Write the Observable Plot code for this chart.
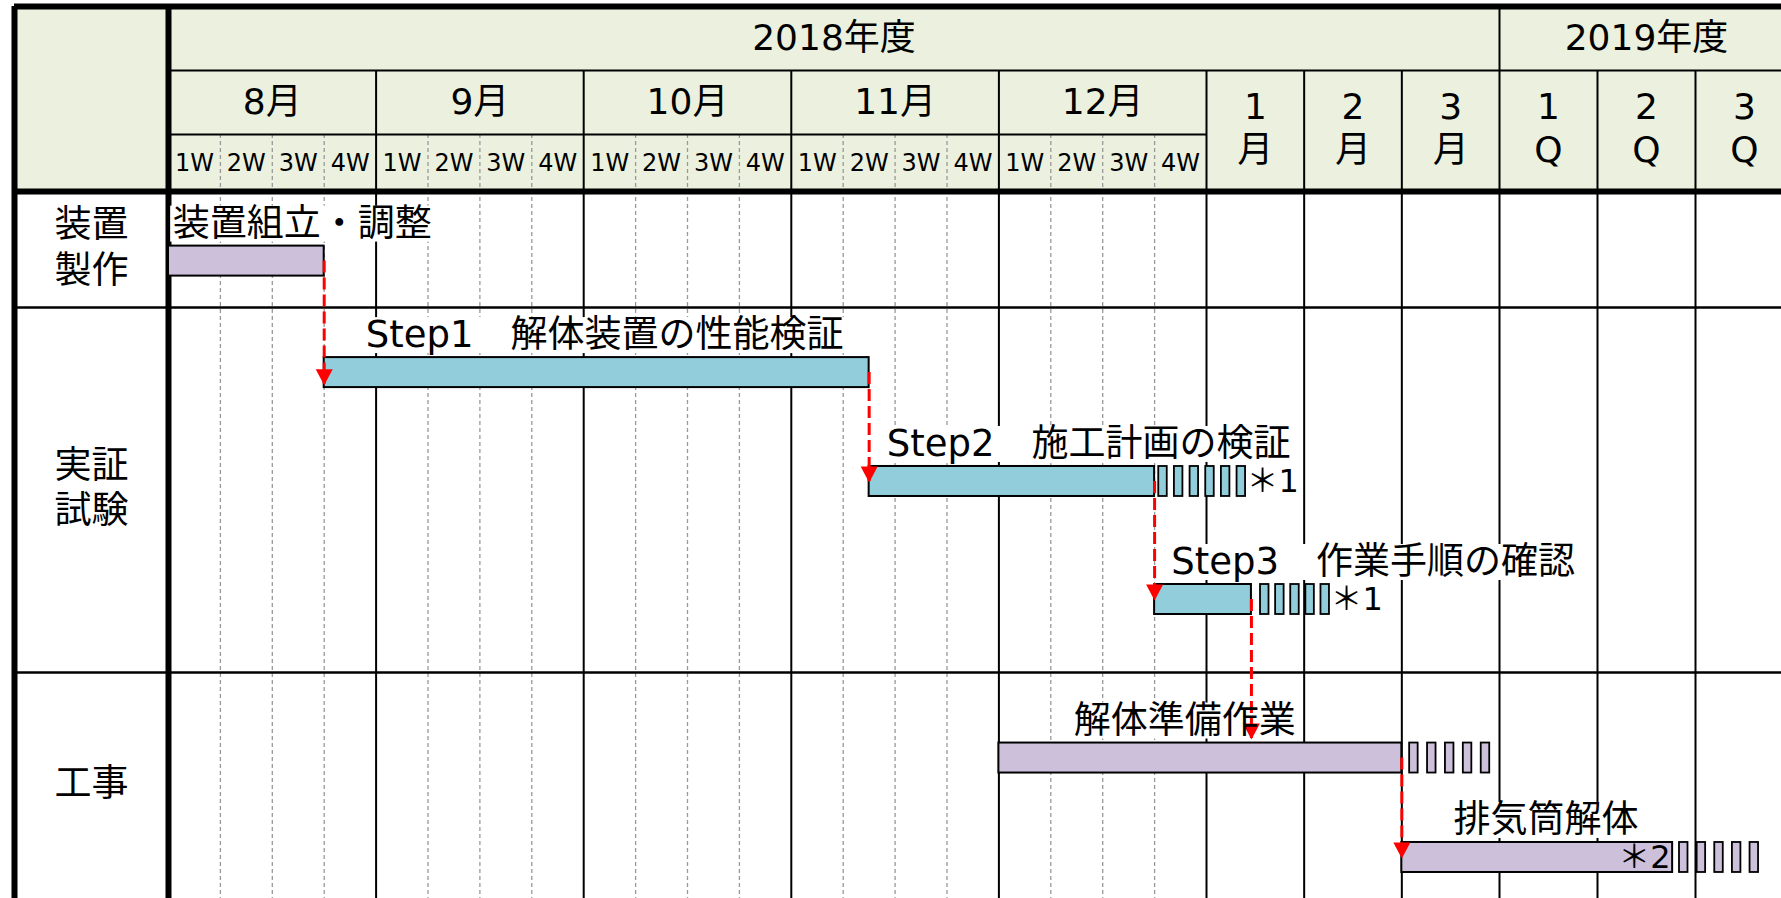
<!DOCTYPE html>
<html lang="ja">
<head>
<meta charset="utf-8">
<script src="https://cdn.jsdelivr.net/npm/d3@7"></script>
<script src="https://cdn.jsdelivr.net/npm/@observablehq/plot@0.6"></script>
<style>
html, body { margin: 0; padding: 0; background: #fff; overflow: hidden; }
#chart svg { display: block; }
</style>
</head>
<body>
<div id="chart"></div>
<script>
// ---------- header tick labels (x unit = months from 1 Aug 2018; 1 week = 1/4) ----------
const fiscalYears = ["2018年度", "2019年度"];
const fiscalYearBounds = [0, 8, 17];
const weekMonths = ["8月", "9月", "10月", "11月", "12月"];
const weekLabels = ["1W", "2W", "3W", "4W"];
const laterPeriods = ["1\n月", "2\n月", "3\n月", "1\nQ", "2\nQ", "3\nQ"];
const laterBounds = [5, 6, 7, 8, 11, 14, 17];

// ---------- row groups ----------
const groups = ["装置\n製作", "実証\n試験", "工事"];
const groupBounds = [0, 1, 4, 6];

// ---------- tasks ----------
const taskNames = ["装置組立・調整", "Step1　解体装置の性能検証", "Step2　施工計画の検証", "Step3　作業手順の確認", "解体準備作業", "排気筒解体"];
const taskGroup = [0, 1, 1, 1, 2, 2];
const taskLane = [0.6, 1.535, 2.43, 3.4, 4.757, 5.637];
const taskStart = [0, 0.75, 3.375, 4.75, 4, 7];
const taskEnd = [0.75, 3.375, 4.75, 5.46, 7, 13.3];
const taskLabelAt = [0.02, 0.95, 3.46, 4.83, 4.36, 7.53];

// ---------- possible extensions (small boxes) ----------
const extTask = [2, 3, 4, 5];
const extFrom = [4.77, 5.553, 7.08, 13.51];
const extTo = [5.40, 6.259, 7.90, 15.93];
const extBoxes = [6, 5, 5, 5];

// ---------- notes ----------
const noteTask = [2, 3, 5];
const noteText = ["＊1", "＊1", "＊2"];
const noteAfterExt = [true, true, false];

// ---------- dependency arrows ----------
const linkFrom = [0, 1, 2, 3, 4];
const linkTo = [1, 2, 3, 4, 5];
const linkTip = [1.63, 2.43, 3.40, 4.584, 5.637];

// ---------- styling ----------
const FONT = '"DejaVu Sans", "Noto Sans CJK JP", sans-serif';
const HEADER_FILL = "#EBF1DE";
const groupFill = ["#CCC0DA", "#92CDDC", "#CCC0DA"];
const RED = "#FF0000";
const BAR_HALF = 15, BOX_W = 8.5, LABEL_SIZE = 37, LABEL_DY = -37;

// piecewise column layout: label column, weekly months, monthly, quarterly
const xBreaks = [-1, 0, 5, 8, 17], xStops = [14, 168, 1206, 1499, 1793];
const yBreaks = [-3, -2, -1, 0, 1, 4, 6], yStops = [6, 70, 134, 191, 307, 672, 898];
const X = d3.scaleLinear(xBreaks, xStops);
const Y = d3.scaleLinear(yBreaks, yStops);
const midX = (a, b) => X.invert((X(a) + X(b)) / 2);
const midY = (a, b) => Y.invert((Y(a) + Y(b)) / 2);
const shiftX = (v, px) => X.invert(X(v) + px);
const shiftY = (v, px) => Y.invert(Y(v) + px);

const xLeft = xBreaks[0], xBody = xBreaks[1], xRight = xBreaks[xBreaks.length - 1];
const [yTop, yMonth, yWeek, yBody] = yBreaks;
const yBottom = yBreaks[yBreaks.length - 1];

// text measuring for label backgrounds
const ctx = document.createElement("canvas").getContext("2d");
ctx.font = `${LABEL_SIZE}px ${FONT}`;

// ---------- derived tables ----------
const tasks = taskNames.map((name, i) => ({
  name, group: taskGroup[i], lane: taskLane[i], start: taskStart[i], end: taskEnd[i],
  labelAt: taskLabelAt[i],
  y1: shiftY(taskLane[i], -BAR_HALF), y2: shiftY(taskLane[i], BAR_HALF),
  lx1: shiftX(taskLabelAt[i], -2), lx2: shiftX(taskLabelAt[i], ctx.measureText(name).width + 2),
  ly1: shiftY(taskLane[i], LABEL_DY - 18), ly2: shiftY(taskLane[i], LABEL_DY + 18)
}));

const boxes = extTask.flatMap((t, k) => {
  const a = X(extFrom[k]) + BOX_W / 2, b = X(extTo[k]) - BOX_W / 2, n = extBoxes[k];
  return d3.range(n).map(i => {
    const c = a + (b - a) * i / (n - 1);
    return {x1: X.invert(c - BOX_W / 2), x2: X.invert(c + BOX_W / 2), y1: tasks[t].y1, y2: tasks[t].y2, group: taskGroup[t]};
  });
});

const notes = noteTask.map((t, i) => ({
  text: noteText[i], lane: taskLane[t], after: noteAfterExt[i],
  x: noteAfterExt[i] ? extTo[extTask.indexOf(t)] : taskEnd[t]
}));

const links = linkFrom.map((f, i) => ({x: taskEnd[f], from: taskLane[f], tip: linkTip[i]}));

const yearText = fiscalYears.map((t, i) => ({t, x: midX(fiscalYearBounds[i], fiscalYearBounds[i + 1]), y: midY(yTop, yMonth)}));
const monthText = weekMonths.map((t, i) => ({t, x: midX(i, i + 1), y: midY(yMonth, yWeek)}));
const weekText = weekMonths.flatMap((_, m) => weekLabels.map((t, w) => ({t, x: midX(m + w / 4, m + (w + 1) / 4), y: midY(yWeek, yBody)})));
const laterText = laterPeriods.map((t, i) => ({t, x: midX(laterBounds[i], laterBounds[i + 1]), y: midY(yMonth, yBody)}));
const groupText = groups.map((t, i) => ({t, x: midX(xLeft, xBody), y: midY(groupBounds[i], groupBounds[i + 1])}));

const weekLines = weekMonths.flatMap((_, m) => weekLabels.slice(1).map((_, w) => ({x: m + (w + 1) / 4})));
const monthLines = [...weekMonths.map((_, i) => i + 1), ...laterBounds.slice(1, -1)].map(x => ({x}));
const yearLines = fiscalYearBounds.slice(1, -1).map(x => ({x}));
const groupLines = groupBounds.slice(1, -1).map(y => ({y}));

// filled arrow head whose tip sits on the anchor point
const downTriangle = {
  draw(c) { c.moveTo(0, 1); c.lineTo(-8.5, -15); c.lineTo(8.5, -15); c.closePath(); }
};

const W = 1781, H = 898;
const chart = Plot.plot({
  width: W,
  height: H,
  marginTop: 0, marginRight: 0, marginBottom: 0, marginLeft: 0,
  x: {type: "linear", transform: X, domain: [0, W], range: [0, W], axis: null},
  y: {type: "linear", transform: Y, domain: [0, H], range: [0, H], axis: null},
  style: {fontFamily: FONT, background: "#fff", color: "#000"},
  marks: [
    // header background
    Plot.rect([{}], {x1: () => xLeft, x2: () => xRight, y1: () => yTop, y2: () => yBody, fill: HEADER_FILL}),
    // week dashed lines
    Plot.ruleX(weekLines, {x: "x", y1: () => yWeek, y2: () => yBottom, stroke: "#999", strokeWidth: 1.3, strokeDasharray: "4,3"}),
    // month / period solid lines
    Plot.ruleX(monthLines, {x: "x", y1: () => yMonth, y2: () => yBottom, stroke: "#000", strokeWidth: 2}),
    Plot.ruleX(yearLines, {x: "x", y1: () => yTop, y2: () => yMonth, stroke: "#000", strokeWidth: 2}),
    // horizontal header lines
    Plot.ruleY([{y: yMonth}], {y: "y", x1: () => xBody, x2: () => xRight, stroke: "#000", strokeWidth: 2}),
    Plot.ruleY([{y: yWeek}], {y: "y", x1: () => xBody, x2: () => weekMonths.length, stroke: "#000", strokeWidth: 2}),
    // group separators
    Plot.ruleY(groupLines, {y: "y", x1: () => xLeft, x2: () => xRight, stroke: "#000", strokeWidth: 2.5}),
    // thick frame lines
    Plot.ruleY([{y: yTop}, {y: yBody}], {y: "y", x1: () => xLeft, x2: () => xRight, stroke: "#000", strokeWidth: 6}),
    Plot.ruleX([{x: xLeft}, {x: xBody}], {x: "x", y1: () => yTop, y2: () => yBottom, stroke: "#000", strokeWidth: 6}),
    // header texts
    Plot.text(yearText, {x: "x", y: "y", text: "t", fontSize: 36, lineAnchor: "middle", fill: "#000"}),
    Plot.text(monthText, {x: "x", y: "y", text: "t", fontSize: 36, lineAnchor: "middle", fill: "#000"}),
    Plot.text(weekText, {x: "x", y: "y", text: "t", fontSize: 24, lineAnchor: "middle", fill: "#000"}),
    Plot.text(laterText, {x: "x", y: "y", text: "t", fontSize: 36, lineAnchor: "middle", lineHeight: 1.19, dy: -4, fill: "#000"}),
    Plot.text(groupText, {x: "x", y: "y", text: "t", fontSize: 37, lineAnchor: "middle", lineHeight: 1.22, dy: -4, fill: "#000"}),
    // label backgrounds
    Plot.rect(tasks, {x1: "lx1", x2: "lx2", y1: "ly1", y2: "ly2", fill: "#fff"}),
    // bars
    Plot.rect(tasks, {x1: "start", x2: "end", y1: "y1", y2: "y2", fill: d => groupFill[d.group], stroke: "#000", strokeWidth: 2}),
    // extension boxes
    Plot.rect(boxes, {x1: "x1", x2: "x2", y1: "y1", y2: "y2", fill: d => groupFill[d.group], stroke: "#000", strokeWidth: 1.8}),
    // dependency arrows
    Plot.ruleX(links, {x: "x", y1: "from", y2: "tip", stroke: RED, strokeWidth: 3, strokeDasharray: "12,5"}),
    Plot.dot(links, {x: "x", y: "tip", symbol: downTriangle, fill: RED, stroke: "none", r: 6}),
    // task labels
    Plot.text(tasks, {x: "labelAt", y: "lane", text: "name", dy: LABEL_DY, textAnchor: "start", lineAnchor: "middle", fontSize: LABEL_SIZE, fill: "#000"}),
    // notes
    Plot.text(notes.filter(d => d.after), {x: "x", y: "lane", text: "text", dx: 1, textAnchor: "start", lineAnchor: "middle", fontSize: 32, fill: "#000"}),
    Plot.text(notes.filter(d => !d.after), {x: "x", y: "lane", text: "text", dx: -2, textAnchor: "end", lineAnchor: "middle", fontSize: 32, fill: "#000"})
  ]
});

document.getElementById("chart").appendChild(chart);
</script>
</body>
</html>
